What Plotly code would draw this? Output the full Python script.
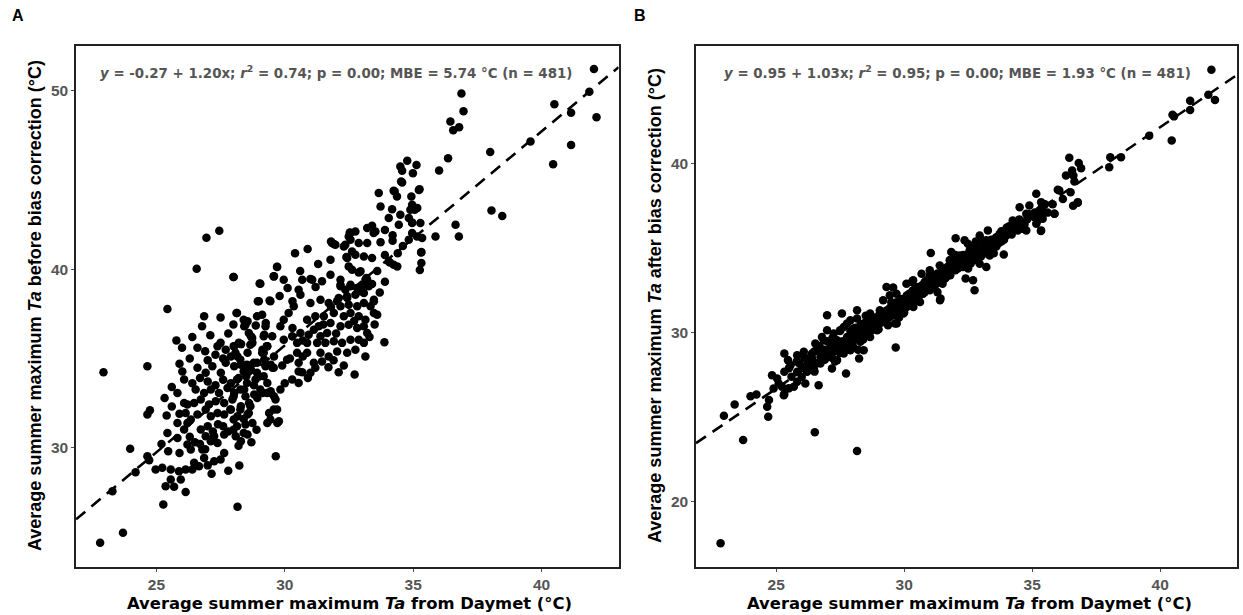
import plotly.graph_objects as go

# ---------------- Panel A: before bias correction ----------------
a_pts = [
(42.04,51.23),(36.88,49.85),(36.96,48.86),(36.45,48.28),(36.56,47.8),(36.79,47.97),(40.5,49.25),(41.15,48.78),
(41.86,49.96),(42.14,48.53),(41.15,46.97),(40.45,45.89),(39.57,47.16),(38.0,46.57),(38.05,43.29),(38.47,42.98),
(36.36,46.23),(36.01,45.54),(36.65,42.49),(36.78,41.84),(35.87,41.84),(35.32,40.96),(35.32,40.35),(35.26,39.96),
(34.77,46.08),(34.5,45.76),(35.13,45.85),(34.99,45.39),(34.57,45.52),(34.53,44.92),(33.66,44.27),(34.24,44.4),
(35.22,44.45),(34.37,44.08),(34.93,44.08),(33.73,43.52),(34.18,43.37),(34.5,43.05),(34.89,43.33),(35.16,43.43),
(34.05,42.87),(34.44,42.49),(34.83,42.87),(34.96,42.59),(35.28,42.59),(34.96,42.03),(34.83,41.65),(35.35,41.75),
(33.21,42.31),(33.4,42.44),(33.46,42.03),(33.73,41.52),(34.05,40.44),(34.24,40.25),(34.38,40.16),(33.4,40.63),
(32.95,39.88),(33.14,39.41),(31.91,41.41),(32.36,41.37),(32.56,42.03),(32.88,41.47),(33.21,41.47),(32.4,40.68),
(32.62,41.0),(33.08,40.72),(32.49,40.16),(32.75,42.12),(32.49,41.84),(32.3,41.28),(32.75,40.81),(32.88,39.82),
(33.18,39.51),(33.4,39.17),(32.17,39.13),(32.56,39.13),(32.95,38.76),(32.43,38.39),(32.04,38.2),(33.47,38.2),
(31.78,39.69),
(34.57,44.86),(34.28,44.36),(35.25,44.49),(34.96,43.61),(35.06,43.33),(34.96,42.62),(33.53,42.12),(32.53,42.06),
(32.56,41.65),(31.84,41.47),(31.97,41.37),(35.15,41.84),(35.31,40.94),(34.09,40.38),(32.43,40.63),(32.62,39.97),
(31.78,40.53),(30.89,41.13),(31.80,41.55),
(32.17,39.41),(32.17,39.04),(32.36,38.85),(32.56,39.04),(32.82,38.95),(33.01,39.04),(33.21,39.41),(33.27,39.04),
(31.45,39.32),(31.07,39.41),(30.68,39.41),(31.0,39.45),
(29.7,40.12),(29.57,39.6),(29.96,39.41),(30.11,38.95),(29.05,39.19),(28.01,39.56),(30.54,38.85),(30.61,38.57),
(31.0,38.11),(31.39,38.29),(31.71,38.11),
(32.1,38.39),(32.43,38.48),(32.75,38.57),(33.08,38.67),(33.47,38.29),
(32.17,37.92),(32.49,38.01),(32.82,37.92),(33.08,38.11),(33.34,37.92),(33.6,37.45),
(31.91,37.55),(32.3,37.36),(32.56,37.55),(32.88,37.36),(33.14,37.17),(33.47,37.55),
(31.78,36.99),(32.17,36.8),(32.49,36.89),(32.82,36.71),(33.08,36.8),(33.21,36.43),
(31.52,37.36),(31.19,37.36),(31.32,36.8),(30.87,37.17),
(30.35,37.92),(30.15,37.55),(29.96,37.17),(29.83,36.8),
(29.51,36.24),(29.31,35.68),(29.18,35.31),
(29.96,36.05),(30.29,36.24),(30.61,36.43),(30.93,36.33),(31.13,36.61),(31.39,36.24),(31.65,36.43),
(30.48,35.87),(30.87,35.87),(31.26,35.87),(31.58,35.87),(31.91,35.96),(32.23,35.87),(32.56,36.05),(32.88,36.05),
(33.08,35.87),(33.88,35.9),
(31.39,35.31),(31.71,35.11),(32.04,35.39),(32.43,35.31),(32.75,35.49),(33.14,35.11),
(30.48,35.31),(30.09,34.93),(30.54,34.75),(30.87,35.31),
(31.13,34.75),(31.45,34.83),(31.19,34.47),
(30.54,34.27),(30.68,34.22),(30.29,33.81),(30.54,33.62),(29.83,33.25),(29.64,32.69),(29.7,32.13),(29.44,31.57),
(32.1,34.22),(32.72,34.09),
(29.12,35.31),(28.92,34.75),(29.25,34.56),(29.57,34.47),
(29.18,36.24),(29.25,36.8),(28.92,37.36),(29.12,37.45),(29.44,38.2),(28.99,38.2),(28.14,37.55),(28.47,36.89),
(28.4,37.17),
(28.6,36.43),(28.73,36.15),(28.21,35.87),(28.66,35.77),
(28.01,35.68),(28.08,35.31),(28.27,34.93),(28.53,34.65),(28.79,34.75),(28.92,34.19),(29.18,34.0),(28.4,34.27),
(28.14,33.81),(28.53,33.62),(28.86,33.81),(29.05,33.25),(29.31,33.06),(28.27,33.25),(28.01,32.87),(28.47,32.87),
(28.66,32.31),(28.27,32.13),(28.6,31.94),(29.57,32.13),(29.77,31.47),
(28.01,31.57),(28.47,31.29),(28.4,30.82),(28.14,31.19),(27.88,32.13),
(22.94,34.22),(24.65,34.56),(25.32,32.78),(24.75,32.09),(24.65,31.85),(25.78,36.01),(26.4,36.2),(25.43,30.82),
(25.46,29.79),(25.82,30.54),(23.98,29.93),(24.65,29.51),(24.72,29.29),(24.19,28.62),(24.97,28.77),(25.23,28.86),
(25.56,28.77),(25.88,28.67),(26.14,28.77),(23.29,27.55),(25.36,27.83),(25.69,27.8),(25.56,28.21),(25.95,28.21),
(26.14,27.5),(25.27,26.81),(23.7,25.22),(22.81,24.66),(28.16,26.68),(27.15,28.53),(28.23,28.99),(26.4,28.77),
(26.66,28.95),(26.47,29.14),(26.21,30.17),(26.34,29.89),(26.79,29.89),(26.86,29.42),(27.25,29.23),(27.5,29.33),
(27.64,29.7),(26.08,31.01),(26.21,31.38),(26.73,31.01),(26.92,30.63),(27.12,30.35),(27.38,30.26),(27.64,30.73),
(27.25,30.63),(28.29,30.35),(28.55,30.73),(28.09,30.63),
(26.14,31.94),(26.34,31.57),(26.6,31.85),(26.92,32.13),(27.12,31.75),(27.38,31.94),(27.64,31.85),(27.9,32.13),
(28.16,31.75),(28.55,31.85),(28.74,31.38),
(26.47,32.5),(26.73,32.69),(27.05,32.41),(27.31,32.59),(27.64,32.5),(27.96,32.69),(28.29,32.31),(28.61,32.5),
(28.93,32.78),
(25.82,33.06),(26.08,32.5),(26.21,32.41),
(26.53,33.25),(26.86,33.06),(27.12,33.25),(27.44,33.06),(27.77,33.34),(28.03,33.06),(28.42,33.25),(28.81,32.97),
(29.13,33.06),(29.45,33.15),
(26.01,34.27),(26.08,33.81),(26.6,34.47),(26.92,34.19),(27.18,34.56),(27.51,34.19),(27.7,34.75),(28.03,34.56),
(28.29,34.65),(28.68,34.37),(29.0,33.99),(29.32,33.62),(29.45,33.06),(29.52,34.47),
(27.38,35.68),(27.7,35.49),(28.03,35.68),(28.16,35.11),(28.55,35.31),(28.74,35.87),(29.13,35.49),(29.32,35.68),
(29.2,34.93),(29.45,34.65),
(27.5,35.87),(28.42,36.8),(28.68,36.24),(29.2,36.33),(29.3,35.68),
(29.58,35.11),(29.58,32.87),(29.71,31.38),(29.32,31.38),(29.39,31.94),(29.65,29.51),(25.82,31.38),
(26.57,40.03),(28.0,39.56),(29.02,39.2),(29.58,39.6),(29.7,40.14),(25.43,37.77),(26.86,37.36),(26.78,36.8),
(28.12,37.55),(28.95,38.2),(29.41,38.24),(28.55,37.08),(28.87,36.84),(29.26,36.99),
(26.95,41.76),(27.45,42.16),
(26.3,30.6),(26.5,30.3),(26.7,30.2),(26.9,29.9),(27.0,31.2),(27.2,30.9),(27.4,31.3),(27.6,31.2),(27.8,30.9),
(28.0,31.0),(28.2,30.1),(28.4,31.6),(28.7,30.3),(28.9,31.0),(26.4,33.6),(26.7,33.9),(27.0,33.7),(27.3,33.5),
(27.6,33.8),(27.9,33.6),(28.2,33.9),(28.5,34.0),(28.8,33.5),(27.0,34.9),(27.3,35.2),(27.6,35.0),(27.9,35.1),
(28.3,35.8),(27.1,36.3),(27.8,36.4),(28.0,36.9),(27.5,37.3),(26.3,35.0),(26.6,35.6),(26.9,35.4),(25.9,34.7),
(25.6,33.4),(25.4,31.8),(25.6,32.3),(25.9,31.9),(25.2,30.2),(25.9,29.7),(27.0,29.0),(27.8,28.7),(26.0,35.6),
(30.2,35.0),(30.7,35.1),(31.0,34.2),(31.7,34.5),(31.9,34.9),(32.3,34.6),(30.0,33.6),(30.9,33.9),(29.9,34.6),
(30.3,36.7),(30.7,36.0),(31.5,36.9),(31.8,37.9),(32.0,36.4),(32.7,37.1),(33.3,36.2),(33.5,36.9),(33.7,38.7),
(33.9,39.3),(33.6,39.9),(33.9,40.8),(34.2,41.6),(34.6,41.3),(34.4,40.9),(33.9,42.2),(34.2,41.9),(30.6,39.9),
(31.3,40.3),(30.4,40.9),(31.2,39.0),(30.3,38.2),(29.8,38.5),
]
a_x = [p[0] for p in a_pts]
a_y = [p[1] for p in a_pts]

# ---------------- Panel B: after bias correction ----------------
b_pts = [
(22.83,17.56),(23.71,23.66),(26.51,24.11),(28.16,23.01),(22.96,25.09),(23.38,25.76),(24.0,26.25),(24.23,26.35),
(24.72,26.02),(24.65,25.62),(24.69,25.03),(24.84,27.49),(25.04,27.3),(25.32,27.69),(25.32,28.77),(25.46,28.38),
(25.56,28.08),(25.32,26.37),(25.49,26.71),(25.69,26.8),(25.82,27.1),(25.82,28.67),(26.08,28.87),(26.34,28.57),
(26.01,27.98),(26.21,27.69),(25.82,27.69),(26.14,27.0),(26.47,27.89),(26.66,26.9),(26.73,28.18),(26.53,29.36),
(26.79,29.75),(26.99,30.15),(26.99,31.03),
(26.4,28.77),(26.66,28.97),(26.92,28.77),(27.12,29.36),(27.25,28.97),(27.38,29.56),(27.57,29.16),(27.77,29.75),
(27.9,29.26),(28.09,29.95),(28.29,29.46),(28.42,30.15),(28.67,29.75),(28.55,30.73),(28.94,30.54),(29.07,31.13),
(29.32,30.93),(29.58,31.33),(29.71,31.72),(30.1,31.52),(30.36,31.72),(30.62,31.82),
(27.18,27.89),(27.73,27.59),(28.24,28.48),(28.42,28.97),(29.67,29.13),
(27.57,31.13),(27.9,30.73),(28.16,31.33),(28.67,31.13),(27.64,30.34),(28.03,30.25),(28.42,30.54),(28.94,30.15),
(29.32,30.54),(29.71,30.54),(29.97,31.13),(30.36,31.52),(31.4,31.92),
(26.86,29.56),(27.25,29.95),(27.5,30.15),(27.77,30.54),(28.16,30.84),(27.12,28.57),(27.38,28.38),(27.64,28.77),
(27.9,28.97),(26.73,28.57),(26.34,28.18),(25.23,26.8),(25.3,26.31),
(29.31,32.70),(29.57,32.67),(29.18,31.92),(29.44,32.21),(29.70,32.31),(29.05,31.33),(29.25,30.93),(29.64,31.03),
(29.37,30.44),(29.64,30.54),(29.83,31.52),(30.03,31.72),(30.22,32.11),(30.35,32.51),(30.48,31.92),(30.09,32.90),
(30.35,33.10),(30.61,32.70),(30.74,32.31),(31.0,32.51),(30.68,33.49),(30.87,33.10),(31.13,33.29),(31.26,32.90),
(31.42,32.02),(31.0,33.69),(31.39,33.98),(31.52,33.69),(31.65,33.29),(31.78,34.28),(32.04,34.18),(31.84,34.77),
(32.30,33.88),(32.17,34.57),(32.43,34.28),(32.56,34.87),(32.49,35.26),(32.75,35.06),(32.36,35.46),(32.69,34.28),
(32.88,34.57),(32.95,34.08),(33.08,35.06),(33.21,35.46),(33.34,34.57),(33.21,33.88),(33.47,35.16),(33.60,35.65),
(33.73,35.85),(33.27,36.05),(32.95,35.75),(32.01,35.59),(31.04,34.71),(32.69,33.10),(32.75,32.51),(32.40,33.20),
(33.89,34.63),(33.99,35.75),(34.18,36.24),(34.24,36.64),(34.51,37.42),(34.77,37.03),(34.89,37.52),(35.16,38.21),
(35.09,36.83),(35.28,37.23),(35.41,37.03),(35.16,36.44),(34.77,36.05),(34.63,36.15),(35.34,36.01),(35.87,37.03),
(36.0,38.45),(36.78,37.68),(34.44,36.05),
(42.0,45.55),(42.14,43.76),(41.88,44.07),(41.17,43.72),(41.17,43.17),(40.48,42.89),(40.54,42.79),(40.45,41.36),
(39.57,41.65),(38.47,40.37),(38.05,40.37),(38.01,39.78),(36.45,40.34),(36.82,40.04),(36.91,39.72),(36.56,39.59),
(36.32,39.29),(36.61,39.29),(36.65,38.94),(36.78,37.72),(36.06,38.41),(35.87,37.03),(35.35,37.72),(35.35,37.33),
(35.35,37.03),(35.41,36.74),(35.35,36.05),
(26.2,28.1),(26.4,28.5),(26.6,28.2),(26.8,28.9),(26.9,28.4),(27.0,28.7),(27.1,29.1),(27.2,28.5),(27.3,28.9),
(27.4,29.3),(27.5,28.8),(27.6,29.5),(27.7,29.0),(27.8,29.7),(27.9,29.3),(28.0,30.0),(28.1,29.6),(28.2,30.2),
(28.3,29.8),(28.4,30.4),(28.5,30.0),(28.6,30.6),(28.7,30.1),(28.8,30.8),(28.9,30.3),(29.0,31.0),(29.1,30.6),
(29.2,31.2),(29.3,30.7),(29.4,31.4),(29.5,31.0),(29.6,31.6),(29.7,31.1),(29.8,31.8),(29.9,31.3),(30.0,32.0),
(30.1,31.6),(30.2,32.3),(30.3,31.8),(30.4,32.5),(30.5,32.0),(30.6,32.2),(30.7,32.8),(30.8,32.4),(30.9,33.0),
(31.0,32.6),(31.1,33.2),(31.2,32.8),(31.3,33.5),(31.4,33.0),(31.5,33.7),(31.6,33.2),(31.7,33.9),(31.8,33.4),
(31.9,34.1),(32.0,33.7),(32.1,34.3),(32.2,33.9),(32.3,34.6),(32.4,34.0),(32.5,34.5),(32.6,34.1),(32.7,34.8),
(32.8,34.3),(32.9,35.0),(33.0,34.5),(33.1,35.2),(33.2,34.7),(33.3,35.4),(33.4,34.9),(33.5,35.5),(33.6,35.1),
(33.7,35.3),(33.8,36.0),(33.9,35.5),(34.0,36.2),(34.2,35.8),(34.4,36.5),(34.6,36.3),(34.8,36.7),(35.0,36.9),
(35.2,36.6),(35.4,37.4),(35.6,37.1),(35.8,37.6),(36.2,37.9),(36.5,38.3),(36.6,37.5),
(27.0,29.5),(27.5,30.1),(28.0,29.2),(28.5,31.0),(29.0,30.2),(29.5,31.8),(30.0,31.2),(30.5,32.7),(31.0,33.4),
(31.5,32.9),(32.0,34.6),(32.5,33.8),(33.0,35.5),(33.5,34.7),(28.2,29.0),(29.8,30.9),(31.3,32.4),(32.8,35.4),
(26.5,27.7),(27.3,28.3),(30.3,33.0),(31.8,34.3),
(26.1,28.5),(26.3,28.3),(26.5,28.9),(26.7,29.2),(26.9,29.0),(27.1,28.9),(27.2,29.7),(27.4,29.0),(27.5,29.4),
(27.6,28.9),(27.7,29.5),(27.8,29.2),(27.9,30.1),(28.0,29.6),(28.1,30.3),(28.2,29.7),(28.3,30.5),(28.4,29.6),
(28.5,30.6),(28.6,30.2),(28.7,30.7),(28.8,30.4),(28.9,30.9),(29.0,30.5),(29.1,31.2),(29.2,30.8),(29.3,31.3),
(29.4,30.9),(29.5,31.6),(29.6,31.2),(29.7,31.8),(29.8,31.4),(29.9,32.0),(30.0,31.6),(30.1,32.2),(30.2,31.9),
(30.3,32.4),(30.4,32.1),(30.5,32.4),(30.6,32.6),(30.7,32.3),(30.8,33.0),(30.9,32.7),(31.0,33.1),(31.1,32.8),
(31.2,33.4),(31.3,33.0),(31.4,33.5),(31.5,33.3),(31.6,33.8),(31.7,33.4),(31.8,33.9),(31.9,33.7),(32.0,34.0),
(32.1,33.8),(32.2,34.4),(32.3,34.1),(32.4,34.6),(32.5,34.3),(32.6,34.7),(32.7,34.4),(32.8,34.9),(32.9,34.6),
(33.0,35.0),(33.1,34.8),(33.2,35.3),(33.3,35.0),(33.4,35.5),(33.5,35.2),(33.6,35.6),(33.8,35.4),(34.0,35.8),
(34.1,36.3),(34.3,36.1),(34.5,36.7),(34.7,36.4),(34.9,37.0),(35.1,37.1),(35.5,37.6),(25.9,28.2),(25.6,27.4),
(26.0,27.4),(26.2,27.8),(25.8,28.3),(25.5,27.9),(25.1,27.0),(24.9,26.7),
]
b_x = [p[0] for p in b_pts]
b_y = [p[1] for p in b_pts]

# regression coefficients (intercept, slope)
a_fit = (-0.27, 1.20)
b_fit = (0.95, 1.03)

x_range = [21.87, 43.0]
a_yrange = [23.3, 52.52]
b_yrange = [16.15, 46.95]

a_label = "<b><i>y</i> = -0.27 + 1.20x; <i>r</i><sup>2</sup> = 0.74; p = 0.00; MBE = 5.74 °C (n = 481)</b>"
b_label = "<b><i>y</i> = 0.95 + 1.03x; <i>r</i><sup>2</sup> = 0.95; p = 0.00; MBE = 1.93 °C (n = 481)</b>"
x_title = "<b>Average summer maximum <i>Ta</i> from Daymet (°C)</b>"
a_ytitle = "<b>Average summer maximum <i>Ta</i> before bias correction (°C)</b>"
b_ytitle = "<b>Average summer maximum <i>Ta</i> after bias correction (°C)</b>"

FONT = "Liberation Sans, Arial, sans-serif"
WFONT = "DejaVu Sans, Liberation Sans, sans-serif"
W, H = 1243, 615

fig = go.Figure()
mk = dict(size=8.5, color="black")
fig.add_trace(go.Scatter(x=a_x, y=a_y, mode="markers", marker=mk, xaxis="x", yaxis="y", showlegend=False))
fig.add_trace(go.Scatter(x=b_x, y=b_y, mode="markers", marker=mk, xaxis="x2", yaxis="y2", showlegend=False))

lx = x_range
fig.add_trace(go.Scatter(x=lx, y=[a_fit[0] + a_fit[1] * v for v in lx], mode="lines",
                         line=dict(color="black", width=2.6, dash="12px,8px"),
                         xaxis="x", yaxis="y", showlegend=False))
fig.add_trace(go.Scatter(x=lx, y=[b_fit[0] + b_fit[1] * v for v in lx], mode="lines",
                         line=dict(color="black", width=2.6, dash="12px,8px"),
                         xaxis="x2", yaxis="y2", showlegend=False))

ydom = [1 - 567 / H, 1 - 46 / H]
axcommon = dict(showgrid=False, zeroline=False, showline=True, mirror=True, linecolor="#222",
                linewidth=1.5, ticks="outside", ticklen=3, tickwidth=1, tickcolor="#4d4d4d",
                tickfont=dict(family=FONT, size=15.5, color="#555555", weight="bold"))

fig.update_layout(
    width=W, height=H, margin=dict(l=0, r=0, t=0, b=0),
    paper_bgcolor="white", plot_bgcolor="white",
    xaxis=dict(domain=[76 / W, 618.6 / W], range=x_range, tickvals=[25, 30, 35, 40], anchor="y", **axcommon),
    yaxis=dict(domain=ydom, range=a_yrange, tickvals=[30, 40, 50], anchor="x", **axcommon),
    xaxis2=dict(domain=[696 / W, 1237 / W], range=x_range, tickvals=[25, 30, 35, 40], anchor="y2", **axcommon),
    yaxis2=dict(domain=ydom, range=b_yrange, tickvals=[20, 30, 40], anchor="x2", **axcommon),
)

ann = []
ann.append(dict(text=a_label, xref="paper", yref="paper", x=98 / W, y=1 - 72 / H, xanchor="left", yanchor="middle",
                showarrow=False, font=dict(family=WFONT, size=13.4, color="#555555")))
ann.append(dict(text=b_label, xref="paper", yref="paper", x=722 / W, y=1 - 72 / H, xanchor="left", yanchor="middle",
                showarrow=False, font=dict(family=WFONT, size=13.4, color="#555555")))
for cx in [(127 + 571) / 2, (127 + 571) / 2 + 620]:
    ann.append(dict(text=x_title, xref="paper", yref="paper", x=cx / W, y=1 - 603 / H, xanchor="center",
                    yanchor="middle", showarrow=False, font=dict(family=WFONT, size=16.4, color="black")))
ann.append(dict(text=a_ytitle, xref="paper", yref="paper", x=35 / W, y=1 - 306 / H, xanchor="center",
                yanchor="middle", textangle=-90, showarrow=False, font=dict(family=FONT, size=18, color="black")))
ann.append(dict(text=b_ytitle, xref="paper", yref="paper", x=655 / W, y=1 - 306 / H, xanchor="center",
                yanchor="middle", textangle=-90, showarrow=False, font=dict(family=FONT, size=18, color="black")))
ann.append(dict(text="<b>A</b>", xref="paper", yref="paper", x=18 / W, y=1 - 16 / H, xanchor="center",
                yanchor="middle", showarrow=False, font=dict(family=FONT, size=16, color="black")))
ann.append(dict(text="<b>B</b>", xref="paper", yref="paper", x=640 / W, y=1 - 16 / H, xanchor="center",
                yanchor="middle", showarrow=False, font=dict(family=FONT, size=16, color="black")))
fig.update_layout(annotations=ann)

fig.write_html("out.html")
